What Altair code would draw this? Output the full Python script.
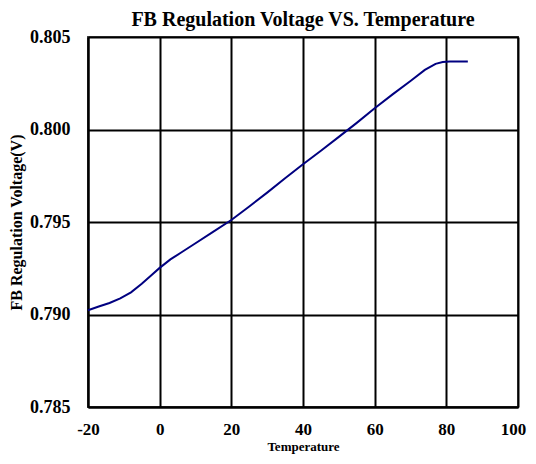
import altair as alt
import pandas as pd

temps = [-20, -17, -14, -11, -8, -5, -2, 0, 3, 6, 10, 15, 20, 25, 30, 35, 40, 45,
         50, 55, 60, 65, 70, 74, 77, 79, 81, 83, 86]
volts = [0.79023, 0.79043, 0.79062, 0.79087, 0.79120, 0.79166, 0.79218, 0.79252,
         0.79298, 0.79335, 0.79385, 0.79448, 0.79511, 0.79584, 0.79659, 0.79736,
         0.79812, 0.79885, 0.79960, 0.80036, 0.80115, 0.80190, 0.80262, 0.80322,
         0.80355, 0.80365, 0.80367, 0.80367, 0.80367]
x_ticks = [-20, 0, 20, 40, 60, 80, 100]
y_ticks = [0.785, 0.790, 0.795, 0.800, 0.805]

df = pd.DataFrame({"Temperature": temps, "Voltage": volts})

font = "Liberation Serif"

chart = alt.Chart(df).mark_line(color="#000080", strokeWidth=2).encode(
    x=alt.X("Temperature:Q",
            scale=alt.Scale(domain=[-20, 100], nice=False),
            axis=alt.Axis(values=x_ticks, title="Temperature",
                          labelExpr="'' + datum.value",
                          labelOffset={"condition": {"test": "datum.value == 100", "value": -5},
                                       "value": 0},
                          labelFlush=False, labelPadding=14, labelFontSize=17,
                          titlePadding=3, titleFontSize=13)),
    y=alt.Y("Voltage:Q",
            scale=alt.Scale(domain=[0.785, 0.805], nice=False, zero=False),
            axis=alt.Axis(values=y_ticks, title="FB Regulation Voltage(V)", format=".3f",
                          labelPadding=18, labelFontSize=18,
                          titlePadding=5, titleFontSize=16)),
).properties(
    width=430,
    height=370,
    title=alt.TitleParams("FB Regulation Voltage VS. Temperature", font=font,
                          fontSize=20, fontWeight="bold", color="black",
                          anchor="middle", offset=-2),
    autosize=alt.AutoSizeParams(type="none"),
    padding={"left": 80, "top": 29, "right": 10, "bottom": 49},
).configure_view(
    stroke="#444444", strokeWidth=2
).configure_axis(
    grid=True, gridColor="black", gridWidth=2, gridOpacity=1,
    domainColor="black", domainWidth=2, ticks=False,
    labelFont=font, labelFontWeight="bold", labelColor="black",
    titleFont=font, titleFontWeight="bold", titleColor="black",
)

chart.save("out.html", embed_options={"renderer": "svg", "actions": False})
